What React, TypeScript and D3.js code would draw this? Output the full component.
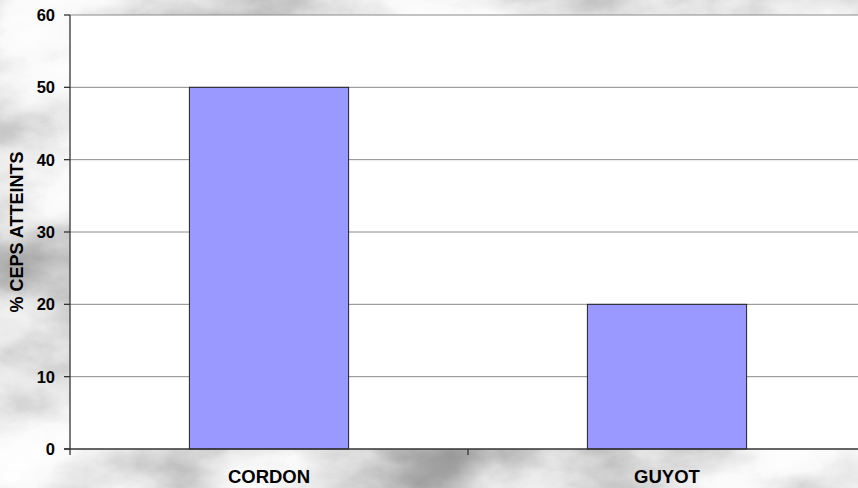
import React from "react";
import * as d3 from "d3";

const categories = ["CORDON", "GUYOT"];
const values = [50, 20];
const yTicks = [0, 10, 20, 30, 40, 50, 60];
const yTitle = "% CEPS ATTEINTS";

const W = 858;
const H = 488;
const M = { left: 70, top: 15, right: 866, bottom: 449 };

export default function App() {
  const x = d3
    .scaleBand<string>()
    .domain(categories)
    .range([M.left, M.right])
    .paddingInner(0.6)
    .paddingOuter(0.3);
  const y = d3.scaleLinear().domain([0, 60]).range([M.bottom, M.top]);
  const step = x.step();
  const xBoundaries = [0, 1, 2].map((i) => M.left + i * step);
  const font = "'Liberation Sans', Arial, sans-serif";

  return (
    <svg
      width={W}
      height={H}
      style={{ position: "absolute", left: 0, top: 0, display: "block" }}
    >
      <defs>
        <filter id="marble" x="0" y="0" width="100%" height="100%" colorInterpolationFilters="sRGB">
          <feTurbulence
            type="fractalNoise"
            baseFrequency="0.006 0.01"
            numOctaves={6}
            seed={11}
            result="noise"
          />
          <feColorMatrix
            type="matrix"
            values="1 0 0 0 0  1 0 0 0 0  1 0 0 0 0  0 0 0 0 1"
            in="noise"
            result="gray"
          />
          <feComponentTransfer in="gray">
            <feFuncR type="table" tableValues="0.58 0.66 0.78 0.9 0.98 1 1" />
            <feFuncG type="table" tableValues="0.58 0.66 0.78 0.9 0.98 1 1" />
            <feFuncB type="table" tableValues="0.58 0.66 0.78 0.9 0.98 1 1" />
          </feComponentTransfer>
        </filter>
      </defs>
      <rect x={0} y={0} width={W} height={H} fill="#d0d0d0" filter="url(#marble)" />
      <rect
        x={M.left}
        y={M.top}
        width={M.right - M.left}
        height={M.bottom - M.top}
        fill="#ffffff"
      />
      {yTicks
        .filter((t) => t > 0)
        .map((t) => (
          <line
            key={"g" + t}
            x1={M.left}
            x2={M.right}
            y1={y(t)}
            y2={y(t)}
            stroke="#8a8a8a"
            strokeWidth={1}
          />
        ))}
      {categories.map((c, i) => (
        <rect
          key={c}
          x={x(c)}
          y={y(values[i])}
          width={x.bandwidth()}
          height={y(0) - y(values[i])}
          fill="#9999ff"
          stroke="#222"
          strokeWidth={1}
        />
      ))}
      <line x1={M.left} x2={M.left} y1={M.top} y2={M.bottom} stroke="#333" strokeWidth={1.3} />
      <line x1={M.left - 6} x2={M.right} y1={M.bottom} y2={M.bottom} stroke="#333" strokeWidth={1.3} />
      {yTicks.map((t) => (
        <g key={"t" + t}>
          <line x1={M.left - 6} x2={M.left} y1={y(t)} y2={y(t)} stroke="#333" strokeWidth={1.3} />
          <text
            x={55}
            y={y(t)}
            dy="0.36em"
            textAnchor="end"
            fontFamily={font}
            fontWeight="bold"
            fontSize={16.5}
            fill="#000"
          >
            {t}
          </text>
        </g>
      ))}
      {xBoundaries.map((b, i) => (
        <line key={"xb" + i} x1={b} x2={b} y1={M.bottom} y2={M.bottom + 6} stroke="#333" strokeWidth={1.3} />
      ))}
      {categories.map((c) => (
        <text
          key={"l" + c}
          x={(x(c) as number) + x.bandwidth() / 2}
          y={483}
          textAnchor="middle"
          fontFamily={font}
          fontWeight="bold"
          fontSize={18.5}
          fill="#000"
        >
          {c}
        </text>
      ))}
      <text
        transform={`translate(23, ${(M.top + M.bottom) / 2}) rotate(-90)`}
        textAnchor="middle"
        fontFamily={font}
        fontWeight="bold"
        fontSize={18}
        fill="#000"
      >
        {yTitle}
      </text>
    </svg>
  );
}
